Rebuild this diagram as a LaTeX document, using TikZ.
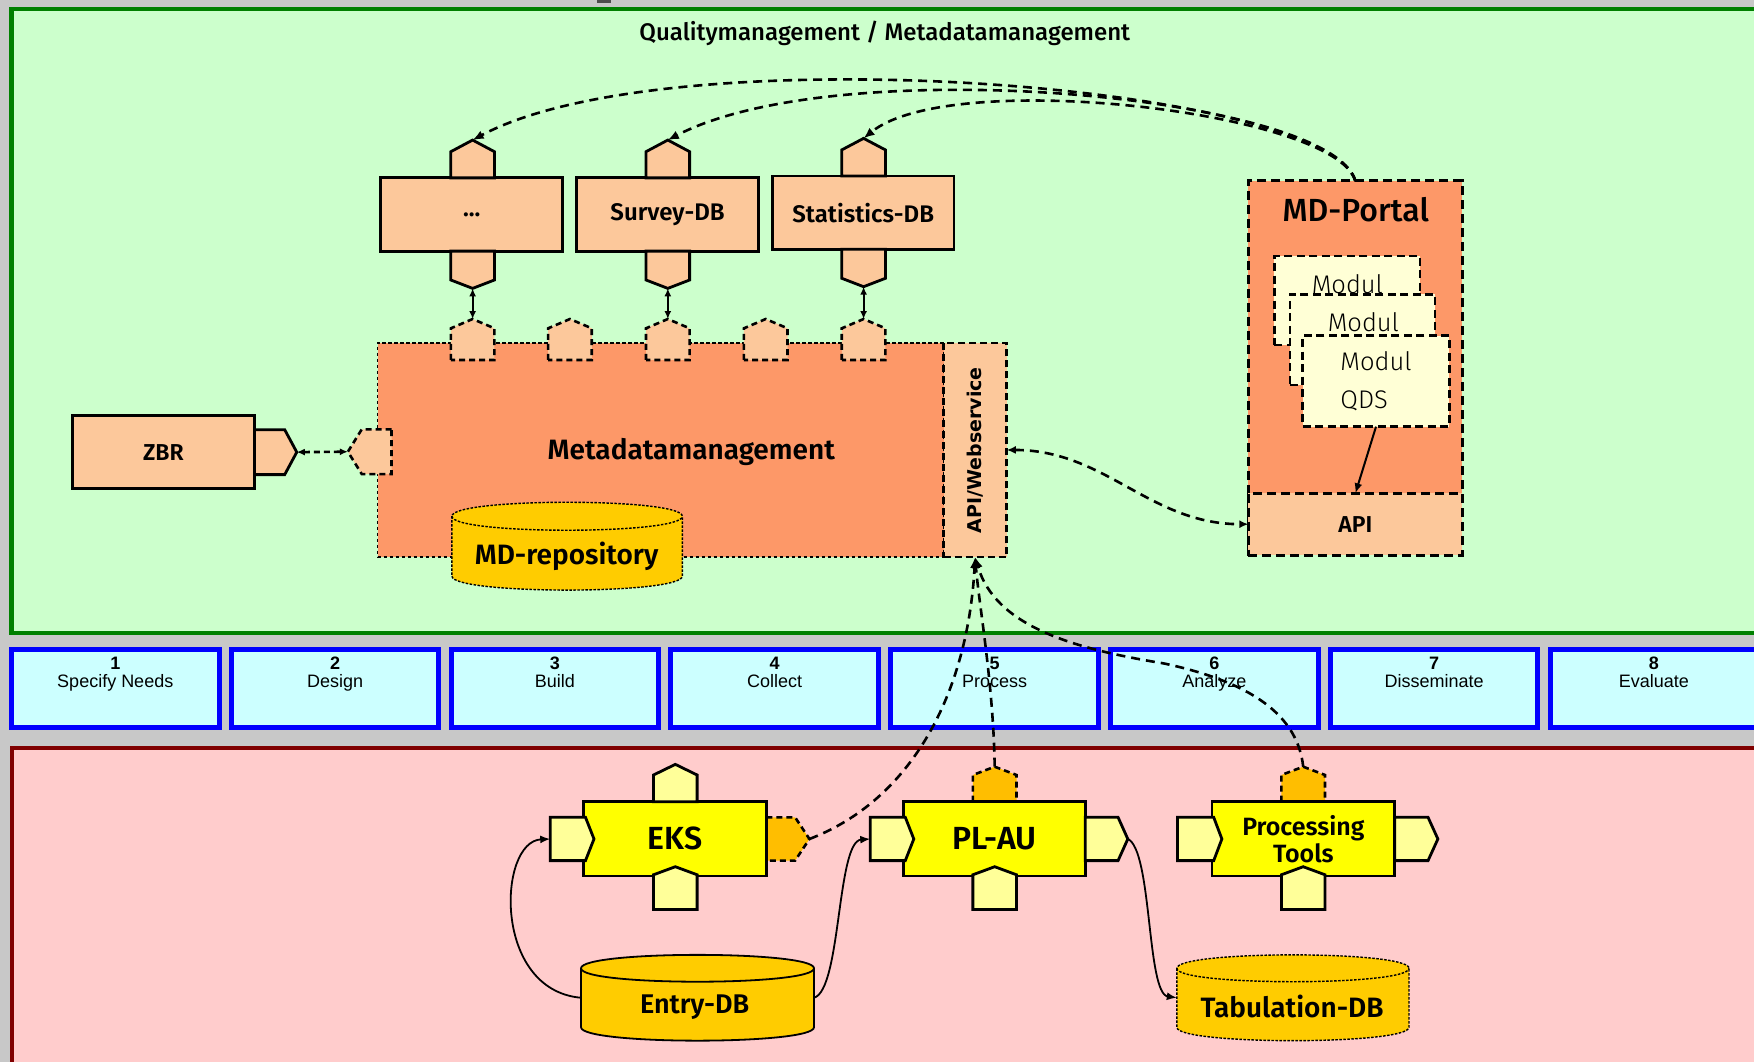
\documentclass[tikz,border=0pt]{standalone}
\usepackage{fontspec}
\setmainfont{Fira Sans}
\newfontfamily\fmed{Fira Sans Medium}
\newfontfamily\fsemi{Fira Sans SemiBold}
\newfontfamily\flight{Fira Sans Light}
\newfontfamily\arialf{Liberation Sans}
\newfontfamily\dejaf{DejaVu Sans}
\usetikzlibrary{arrows.meta}
\definecolor{bggray}{RGB}{200,200,200}
\definecolor{panelgreen}{RGB}{204,255,204}
\definecolor{bordgreen}{RGB}{0,128,0}
\definecolor{panelpink}{RGB}{255,204,204}
\definecolor{bordred}{RGB}{128,0,0}
\definecolor{stepfill}{RGB}{204,255,255}
\definecolor{stepblue}{RGB}{0,0,255}
\definecolor{peach}{RGB}{252,200,155}
\definecolor{orng}{RGB}{253,152,104}
\definecolor{gold}{RGB}{255,204,0}
\definecolor{ylw}{RGB}{255,255,0}
\definecolor{lylw}{RGB}{255,255,153}
\definecolor{tabgold}{RGB}{255,190,0}
\definecolor{modfill}{RGB}{255,255,214}
\newcommand\fsz[1]{\fontsize{#1}{#1}\selectfont}
% box node from corner coordinates
\newcommand\bx[7]{%
 \pgfmathsetmacro\myBW{(#4-#2)*1.1186}%
 \pgfmathsetmacro\myBH{(#5-#3)*1.1186}%
 \node[inner sep=0pt,outer sep=0pt,minimum width=\myBW pt,minimum height=\myBH pt,align=center,#6] (#1) at ({(#2+#4)/2},{(#3+#5)/2}) {#7};}
% vertical tab: style, cx, ybase, yshoulder, yapex
\newcommand\tabv[5]{%
 \path[#1] ({#2-19.5},#3) -- ({#2-19.5},#4) -- (#2,#5) -- ({#2+19.5},#4) -- ({#2+19.5},#3) -- cycle;}
% horizontal tab: style, xbase, xshoulder, xapex, cy, halfheight
\newcommand\tabh[6]{%
 \path[#1] (#2,{#5-#6}) -- (#3,{#5-#6}) -- (#4,#5) -- (#3,{#5+#6}) -- (#2,{#5+#6}) -- cycle;}
% cylinder: style, x1, x2, ytopcenter, ybotcenter, ry
\newcommand\cylpath[6]{%
 \path[#1] (#2,#4) -- (#2,#5) .. controls (#2,{#5+1.3333*#6}) and (#3,{#5+1.3333*#6}) .. (#3,#5) -- (#3,#4) .. controls (#3,{#4-1.3333*#6}) and (#2,{#4-1.3333*#6}) .. (#2,#4) -- cycle;
 \path[#1,fill=none] (#2,#4) .. controls (#2,{#4+1.3333*#6}) and (#3,{#4+1.3333*#6}) .. (#3,#4);}
\tikzset{
 peachbox/.style={draw,fill=peach,line width=2.8pt},
 tabpeach/.style={draw,fill=peach,line width=2.8pt},
 tabpeachd/.style={draw,fill=peach,line width=2.6pt,dash pattern=on 6pt off 4pt},
 yelbox/.style={draw,fill=ylw,line width=2.8pt},
 tabyel/.style={draw,fill=lylw,line width=2.8pt},
 tabgoldd/.style={draw,fill=tabgold,line width=2.6pt,dash pattern=on 6pt off 4pt},
 bigdash/.style={draw,line width=3pt,dash pattern=on 9pt off 5pt},
 modbox/.style={draw,fill=modfill,line width=2.6pt,dash pattern=on 8pt off 4.5pt},
 stepbox/.style={draw=stepblue,fill=stepfill,line width=5pt},
 conn/.style={line width=2.6pt,dash pattern=on 9pt off 6pt},
 bigtip/.style={-{Latex[length=11pt,width=9pt]}},
 smalltips/.style={{Latex[length=8pt,width=7pt]}-{Latex[length=8pt,width=7pt]}},
 solidconn/.style={line width=1.8pt,-{Latex[length=10pt,width=8pt]}},
 dotted cyl/.style={draw,fill=gold,line width=1.4pt,dash pattern=on 2.5pt off 1.5pt},
}
\begin{document}
\begin{tikzpicture}[x=1.1186pt,y=-1.1186pt]
\useasboundingbox (0,0) rectangle (1568,949);
\clip (0,0) rectangle (1568,949);
\fill[bggray] (0,0) rectangle (1568,949);
\fill[gray!60!black] (534,0) rectangle (546,2.5);
% panels
\path[draw=bordgreen,fill=panelgreen,line width=4.5pt] (10.3,8) rectangle (1620,566);
\path[draw=bordred,fill=panelpink,line width=4pt] (10.3,668.8) rectangle (1620,1000);
\node[font=\fmed\fsz{24}] (title) at (791,30) {Qualitymanagement / Metadatamanagement};

% ---- top boxes ----
\bx{dots}{340.2}{159}{503.1}{224.5}{peachbox,font=\fsemi\fsz{24}}{...}
\bx{survey}{515.5}{159}{678}{224.5}{peachbox,font=\fsemi\fsz{24}}{Survey-DB}
\bx{stat}{690.4}{157.3}{852.9}{222.9}{peachbox,font=\fsemi\fsz{24}}{Statistics-DB}
\tabv{tabpeach}{422.5}{159}{135.6}{125.2}
\tabv{tabpeach}{422.5}{224.5}{250.3}{257.8}
\tabv{tabpeach}{597}{159}{135.6}{125.2}
\tabv{tabpeach}{597}{224.5}{250.3}{257.8}
\tabv{tabpeach}{772}{157.3}{134}{123.7}
\tabv{tabpeach}{772}{222.9}{248.8}{256.3}
\coordinate (dotsT) at (422.5,125.2);
\coordinate (dotsB) at (422.5,257.8);
\coordinate (survT) at (597,125.2);
\coordinate (survB) at (597,257.8);
\coordinate (statT) at (772,123.7);
\coordinate (statB) at (772,256.3);

% ---- metadatamanagement ----
\bx{mdm}{337.5}{306.5}{843.5}{498}{draw,fill=orng,line width=1.4pt,dash pattern=on 3.5pt off 2.5pt}{}
\bx{apiws}{843.5}{306.5}{900}{498}{draw,fill=peach,line width=2.6pt,dash pattern=on 7pt off 4pt}{}
\node[rotate=90,font=\dejaf\bfseries\fsz{19}] (apiwstext) at (871.5,402.5) {API/Webservice};
\foreach \cx/\nm in {422.5/mdt1,509.5/mdt2,597/mdt3,684.5/mdt4,772/mdt5}{
  \tabv{tabpeachd}{\cx}{321.8}{293.5}{285.2}
  \coordinate (\nm) at (\cx,285.2);
}
\tabh{tabpeachd}{350}{323.4}{311}{403.8}{20}
\coordinate (mdL) at (311,403.8);
\node[font=\fsemi\fsz{28}] (mdmtext) at (618,403.8) {Metadatamanagement};
\cylpath{dotted cyl}{404}{610}{461.5}{515}{12.5}
\node[font=\fsemi\fsz{28}] (mdrep) at (506.5,497.6) {MD-repository};

% ---- ZBR ----
\bx{zbr}{64.7}{371.6}{227.5}{436.9}{peachbox,font=\fsemi\fsz{23}}{ZBR}
\tabh{tabpeach}{227.5}{254.5}{265.3}{404.2}{20.1}
\coordinate (zbrR) at (265.3,404.2);

% ---- MD-Portal ----
\bx{mdportal}{1116}{161.8}{1307.3}{496.2}{bigdash,fill=orng}{}
\node[font=\fmed\fsz{32}] (portaltext) at (1212,187.7) {MD-Portal};
\bx{portalapi}{1116}{441}{1307.3}{496.2}{bigdash,fill=peach,font=\fsemi\fsz{23}}{API}
\bx{modul1}{1139.2}{228.9}{1269.5}{308.4}{modbox}{}
\node[font=\flight\fsz{25.5}] (modul1text) at (1204.5,254) {Modul};
\bx{modul2}{1153.2}{263.1}{1282.9}{344.2}{modbox}{}
\node[font=\flight\fsz{25.5}] (modul2text) at (1218.8,287.6) {Modul};
\bx{modul3}{1164.6}{300.1}{1295.6}{381.4}{modbox,font=\flight\fontsize{25.5}{37.6}\selectfont,align=left}{Modul\\QDS}

% ---- connectors top ----
\draw[conn,bigtip] (mdportal.north) .. controls (1185,75) and (600,30) .. (dotsT);
\draw[conn,bigtip] (mdportal.north) .. controls (1190,85) and (750,45) .. (survT);
\draw[conn,bigtip] (mdportal.north) .. controls (1195,100) and (850,60) .. (statT);
\draw[line width=2pt,smalltips] (dotsB) -- (mdt1);
\draw[line width=2pt,smalltips] (survB) -- (mdt3);
\draw[line width=2pt,smalltips] (statB) -- (mdt5);
\draw[line width=2.6pt,dash pattern=on 6pt off 4pt,smalltips] (zbrR) -- (mdL);
\draw[conn,{Latex[length=9pt,width=8pt]}-{Latex[length=9pt,width=8pt]}] (apiws.east) to[out=0,in=180] (portalapi.west);
\draw[line width=2pt,-{Latex[length=10pt,width=8pt]}] (modul3.south) -- (portalapi.north);

% ---- steps ----
\foreach \i/\lab in {1/Specify Needs,2/Design,3/Build,4/Collect,5/Process,6/Analyze,7/Disseminate,8/Evaluate}{
  \pgfmathsetmacro\stx{10.3+196.5*(\i-1)}
  \bx{step\i}{\stx+2.2}{580.2}{\stx+183.3}{650.4}{stepbox,label={[anchor=north,yshift=-7.5pt,inner sep=0pt,align=center,font=\arialf\fontsize{18}{18.5}\selectfont]north:{\textbf{\i}\\\lab}}}{}
}

% ---- bottom: EKS ----
\tabh{tabgoldd}{685.1}{710.8}{723.6}{750}{19.35}
\coordinate (eksR) at (723.6,750);
\bx{eks}{521.9}{716.7}{685.1}{783.1}{yelbox,font=\fsemi\fsz{32}}{EKS}
\tabv{tabyel}{603.7}{716.7}{692.8}{683.3}
\tabv{tabyel}{603.7}{813}{782}{774.8}
\tabh{tabyel}{491.9}{523.4}{531}{750}{19.35}
\coordinate (eksL) at (491.9,750);

% ---- PL-AU ----
\tabv{tabgoldd}{889.2}{716.7}{692.8}{685.4}
\coordinate (plauT) at (889.2,685.4);
\bx{plau}{807.8}{716.7}{970.2}{783.1}{yelbox,font=\fsemi\fsz{32}}{PL-AU}
\tabh{tabyel}{778}{809.3}{816.9}{750}{19.35}
\coordinate (plauL) at (778,750);
\tabh{tabyel}{970.2}{999.5}{1008.2}{750}{19.35}
\coordinate (plauR) at (1008.2,750);
\tabv{tabyel}{889.2}{813}{782}{774.8}

% ---- Processing Tools ----
\tabv{tabgoldd}{1165}{716.7}{692.8}{685.4}
\coordinate (ptT) at (1165,685.4);
\bx{pt}{1083.5}{716.7}{1246.8}{783.1}{yelbox,font=\fsemi\fontsize{25}{27}\selectfont}{Processing\\Tools}
\tabh{tabyel}{1052.6}{1085}{1092.3}{750}{19.35}
\tabh{tabyel}{1246.8}{1276.6}{1285.4}{750}{19.35}
\tabv{tabyel}{1165}{813}{782}{774.8}

% ---- databases ----
\cylpath{draw,fill=gold,line width=1.8pt}{519.4}{727.7}{865.6}{918.3}{12}
\bx{entrydb}{519.4}{853.6}{727.7}{930.3}{}{}
\node[font=\fsemi\fsz{27}] (entrytext) at (621,900) {Entry-DB};
\cylpath{dotted cyl}{1052}{1259.6}{865.6}{918.3}{12}
\bx{tabdb}{1052}{853.6}{1259.6}{930.3}{}{}
\node[font=\fsemi\fsz{28}] (tabtext) at (1155,900) {Tabulation-DB};

% ---- bottom connectors ----
\draw[solidconn] (entrydb.west) .. controls (440,885) and (445,752) .. (eksL);
\draw[solidconn] (entrydb.east) .. controls (752,885) and (748,752) .. (plauL);
\draw[solidconn] (plauR) .. controls (1030,760) and (1025,888) .. (tabdb.west);

\draw[conn,bigtip] (eksR) .. controls (815,715) and (865,620) .. (apiws.south);
\draw[conn,bigtip] (plauT) .. controls (888,610) and (875,540) .. (apiws.south);
\draw[conn,bigtip] (ptT) .. controls (1160,640) and (1120,610) .. (1040,593) .. controls (960,580) and (890,560) .. (apiws.south);
\end{tikzpicture}
\end{document}
